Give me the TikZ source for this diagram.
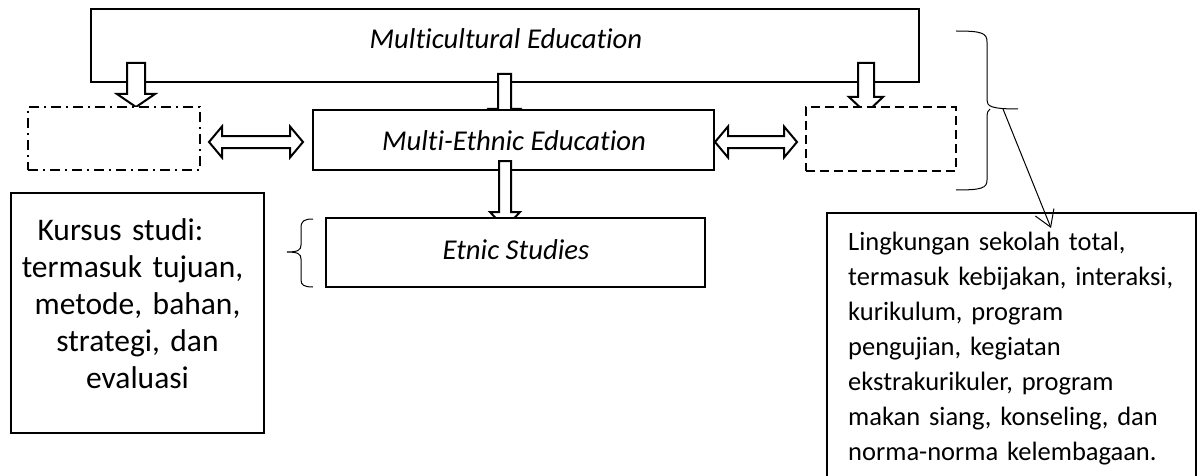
\documentclass[tikz,border=0pt]{standalone}
\usepackage{fontspec}
\setmainfont{Carlito}[Ligatures={NoCommon,NoContextual}]
\usetikzlibrary{arrows.meta,calc}
\newcommand{\vblockarrow}[5]{% start, tip, shaft half width, head half width, head length
  \path[blockarrow] let \p1=(#1), \p2=(#2) in
   (\x1-#3pt,\y1) -- (\x1+#3pt,\y1) -- (\x1+#3pt,\y2+#5pt) -- (\x1+#4pt,\y2+#5pt)
   -- (\x1,\y2) -- (\x1-#4pt,\y2+#5pt) -- (\x1-#3pt,\y2+#5pt) -- cycle;}
\newcommand{\hdblarrow}[5]{% left tip, right tip, shaft half width, head half width, head length
  \path[blockarrow] let \p1=(#1), \p2=(#2) in
   (\x1,\y1) -- (\x1+#5pt,\y1+#4pt) -- (\x1+#5pt,\y1+#3pt) -- (\x2-#5pt,\y1+#3pt)
   -- (\x2-#5pt,\y1+#4pt) -- (\x2,\y1) -- (\x2-#5pt,\y1-#4pt) -- (\x2-#5pt,\y1-#3pt)
   -- (\x1+#5pt,\y1-#3pt) -- (\x1+#5pt,\y1-#4pt) -- cycle;}
\begin{document}
\begin{tikzpicture}[x=1pt,y=-1pt,
  box/.style={draw, line width=2pt, fill=white, inner sep=0pt, outer sep=0pt},
  dashdotbox/.style={box, dash pattern=on 10pt off 5pt on 2pt off 5pt},
  dashbox/.style={box, dash pattern=on 9pt off 5pt},
  blockarrow/.style={draw, line width=2pt, fill=white, line join=miter},
  thinline/.style={line width=1pt},
  ittext/.style={font=\fontsize{28.7}{34}\selectfont\itshape, inner sep=0pt, anchor=base},
  kurtext/.style={font=\fontsize{31.5}{37}\selectfont, inner sep=0pt, anchor=base, align=center, text width=250pt},
  lingtext/.style={font=\fontsize{26.5}{35}\selectfont, inner sep=0pt, anchor=base west, align=left, text width=345pt}
]
\useasboundingbox (0,0) rectangle (1201,476);
\clip (0,0) rectangle (1201,476);

% top box
\node[box, minimum width=828pt, minimum height=73pt] (mc) at (505,45.5) {};
\node[ittext] (mctext) at (506,49) {Multicultural Education};

% coordinates for block arrows
\coordinate (a1s) at (136,63);   \coordinate (a1t) at (136,107);
\coordinate (a2s) at (504.5,74); \coordinate (a2t) at (504.5,125);
\coordinate (a3s) at (866,63);   \coordinate (a3t) at (866,113);
\coordinate (a4s) at (505,161);  \coordinate (a4t) at (505,228);

\vblockarrow{a1s}{a1t}{9}{19}{13}
\vblockarrow{a2s}{a2t}{6.5}{15.5}{16}
\vblockarrow{a3s}{a3t}{8}{17}{16}

% second row
\node[dashdotbox, minimum width=172pt, minimum height=63pt] (lbox) at (114,138.5) {};
\node[dashbox, minimum width=150pt, minimum height=64pt] (rdbox) at (881,139) {};
\node[box, minimum width=401pt, minimum height=60pt] (me) at (513.5,140) {};
\node[ittext] (metext) at (514,150) {Multi-Ethnic Education};

\coordinate (d1l) at (209,142); \coordinate (d1r) at (303,142);
\coordinate (d2l) at (715,142); \coordinate (d2r) at (797,142);
\hdblarrow{d1l}{d1r}{6}{15.5}{13}
\hdblarrow{d2l}{d2r}{6}{15.5}{13}

\vblockarrow{a4s}{a4t}{6}{15}{16}

% etnic studies
\node[box, minimum width=379pt, minimum height=69pt] (es) at (515.5,252.5) {};
\node[ittext] (estext) at (516,259) {Etnic Studies};

% left brace
\draw[thinline] (313,219) .. controls (304,219) and (301,221) .. (301,228) -- (301,245)
  .. controls (301,250) and (298,252) .. (287,252)
  .. controls (298,252) and (301,254) .. (301,259) -- (301,280)
  .. controls (301,285) and (304,287) .. (313,287);

% kursus box
\node[box, minimum width=253pt, minimum height=240pt, anchor=north west] (kbox) at (11,193) {};
\node[kurtext] (ktext) at (137.5,240) {Kursus studi:\kern34pt\\ termasuk tujuan,\kern10pt\\ metode, bahan,\\ strategi, dan\\ evaluasi};

% right brace
\draw[thinline] (956,31) .. controls (982,31) and (987,33) .. (987,42) -- (987,100)
  .. controls (987,106) and (990,109) .. (1018,109);
\draw[thinline] (990,109) .. controls (988,110) and (987,112) .. (987,119) -- (987,180)
  .. controls (987,188) and (982,190) .. (956,190);
\coordinate (rbtip) at (1003,109);

% right box
\node[box, minimum width=369pt, minimum height=266pt, anchor=north west] (rbox) at (827,213) {};
\node[lingtext] (rtext) at (848,250) {Lingkungan sekolah total,\\ termasuk kebijakan, interaksi,\\ kurikulum, program\\ pengujian, kegiatan\\ ekstrakurikuler, program\\ makan siang, konseling, dan\\ norma-norma kelembagaan.};

\coordinate (rarrow) at (1051,228);
\draw[thinline, -{Straight Barb[length=16pt,width=20pt]}] (rbtip) -- (rarrow);
\end{tikzpicture}
\end{document}
